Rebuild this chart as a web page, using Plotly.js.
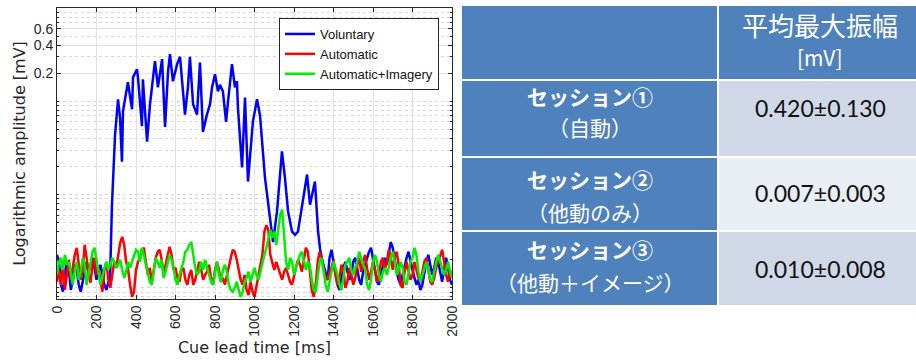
<!DOCTYPE html>
<html><head><meta charset="utf-8">
<script src="https://cdn.plot.ly/plotly-3.0.1.min.js"></script>
<style>html,body{margin:0;padding:0;background:#fff}#chart{width:916px;height:363px}</style>
</head><body><div id="chart"></div>
<script>
// ---------- DATA ----------
const seriesNames = ['Voluntary', 'Automatic', 'Automatic+Imagery'];
const timeMs = [0,10,20,30,40,50,60,70,80,90,100,110,120,130,140,150,160,170,180,190,200,210,220,230,240,250,260,270,280,290,300,310,320,330,340,350,360,370,380,390,400,410,420,430,440,450,460,470,480,490,500,510,520,530,540,550,560,570,580,590,600,610,620,630,640,650,660,670,680,690,700,710,720,730,740,750,760,770,780,790,800,810,820,830,840,850,860,870,880,890,900,910,920,930,940,950,960,970,980,990,1000,1010,1020,1030,1040,1050,1060,1070,1080,1090,1100,1110,1120,1130,1140,1150,1160,1170,1180,1190,1200,1210,1220,1230,1240,1250,1260,1270,1280,1290,1300,1310,1320,1330,1340,1350,1360,1370,1380,1390,1400,1410,1420,1430,1440,1450,1460,1470,1480,1490,1500,1510,1520,1530,1540,1550,1560,1570,1580,1590,1600,1610,1620,1630,1640,1650,1660,1670,1680,1690,1700,1710,1720,1730,1740,1750,1760,1770,1780,1790,1800,1810,1820,1830,1840,1850,1860,1870,1880,1890,1900,1910,1920,1930,1940,1950,1960,1970,1980,1990,2000];
const automaticValues = [
0.00116,0.00156,0.00108,0.00177,0.00095,0.00138,0.0020,0.00122,0.00164,0.00226,
0.00269,0.0019,0.00122,0.00156,0.0029,0.0021,0.00138,0.00114,0.00177,0.0021,
0.00138,0.00164,0.00116,0.00091,0.00156,0.0019,0.00122,0.0010,0.00138,0.0019,
0.00164,0.00226,0.00305,0.00353,0.0029,0.0019,0.00156,0.00108,0.0008,0.00091,
0.00156,0.0019,0.0021,0.00256,0.00269,0.0019,0.00138,0.00164,0.00116,0.00156,
0.0021,0.00244,0.00256,0.0020,0.00138,0.00177,0.00226,0.00276,0.00226,0.00156,
0.00164,0.00128,0.00116,0.00156,0.00164,0.00122,0.00108,0.00138,0.00156,0.00108,
0.00122,0.00149,0.0019,0.00156,0.00122,0.00138,0.00149,0.00177,0.00128,0.00108,
0.00156,0.0019,0.00156,0.00116,0.00128,0.00108,0.00138,0.00177,0.0021,0.00256,
0.00244,0.0020,0.00156,0.00122,0.00108,0.00138,0.00095,0.00084,0.00116,0.00091,
0.0008,0.00108,0.00138,0.00177,0.00226,0.0040,0.0047,0.0042,0.00226,0.0019,
0.00156,0.0019,0.00164,0.00138,0.00122,0.00149,0.00164,0.00138,0.00116,0.00108,
0.00138,0.00164,0.0020,0.00177,0.00149,0.0021,0.00269,0.00244,0.00164,0.00095,
0.0008,0.00108,0.0019,0.00244,0.0020,0.00156,0.00128,0.00122,0.00149,0.00164,
0.0020,0.00138,0.00108,0.00128,0.00177,0.00156,0.0010,0.00116,0.00164,0.00138,
0.00108,0.00128,0.00177,0.0021,0.00149,0.0019,0.00226,0.00164,0.00122,0.00149,
0.0019,0.00156,0.00116,0.00138,0.0019,0.0021,0.00156,0.0019,0.00256,0.0021,
0.00156,0.0021,0.00244,0.00177,0.00108,0.0010,0.00149,0.0019,0.00156,0.00122,
0.00138,0.0019,0.00156,0.00128,0.00116,0.00156,0.0019,0.0021,0.00156,0.00116,
0.00108,0.00128,0.00164,0.0019,0.0021,0.00256,0.0019,0.00138,0.00116,0.00156,
0.00128];
const imageryValues = [
0.00138,0.0019,0.0021,0.00156,0.00226,0.00177,0.0019,0.00138,0.00108,0.00156,
0.0019,0.00122,0.00149,0.0021,0.00177,0.00108,0.00138,0.0019,0.00244,0.00269,
0.0021,0.00149,0.00108,0.00138,0.00164,0.0019,0.00156,0.00177,0.0021,0.0019,
0.00164,0.00177,0.0020,0.00156,0.00128,0.00149,0.0019,0.00164,0.0019,0.00226,
0.00256,0.00244,0.0019,0.00269,0.00226,0.00177,0.00138,0.00116,0.00108,0.00156,
0.0021,0.0019,0.00164,0.0020,0.00128,0.00149,0.0019,0.00226,0.0020,0.00164,
0.00122,0.00108,0.00138,0.00164,0.0019,0.00244,0.00256,0.0029,0.0031,0.00226,
0.00164,0.00138,0.00149,0.0019,0.00156,0.0020,0.00164,0.00138,0.00116,0.00108,
0.00149,0.0019,0.00138,0.00116,0.00156,0.00177,0.00149,0.00108,0.00095,0.00091,
0.0010,0.00116,0.00095,0.0008,0.00091,0.00116,0.00128,0.00149,0.00116,0.00138,
0.00164,0.00138,0.00122,0.00149,0.0019,0.00226,0.00269,0.0033,0.0042,0.00345,
0.0040,0.0029,0.0044,0.0061,0.0069,0.0040,0.0019,0.00156,0.0021,0.0019,
0.00138,0.00164,0.0019,0.00226,0.00244,0.0019,0.00156,0.0019,0.00177,0.00122,
0.00095,0.00091,0.00128,0.0019,0.0021,0.00156,0.00108,0.00091,0.00116,0.00156,
0.0019,0.00164,0.00138,0.00108,0.00095,0.00128,0.00177,0.0019,0.0021,0.00156,
0.00138,0.00164,0.0019,0.00244,0.0021,0.00177,0.00156,0.00108,0.00095,0.00122,
0.0019,0.00226,0.0019,0.00138,0.00116,0.00149,0.00164,0.00138,0.00164,0.0021,
0.00244,0.0019,0.00138,0.00156,0.0019,0.00164,0.00116,0.00108,0.00138,0.0019,
0.0021,0.00269,0.00226,0.00149,0.00116,0.00138,0.00164,0.0019,0.00156,0.00122,
0.00116,0.00156,0.0019,0.00226,0.0019,0.00164,0.00138,0.00156,0.0019,0.00149,
0.00128];
const voluntaryTimeMs = [0,10,20,30,40,50,60,70,80,90,100,110,120,130,140,150,160,170,180,190,200,210,220,230,240,250,260,268,
278,294,309,319,329,334,354,359,380,385,405,410,430,435,456,471,496,511,532,547,562,572,587,608,623,633,648,663,673,689,709,724,739,759,775,785,800,815,825,840,856,866,886,901,911,916,937,952,967,992,1013,1028,1038,1053,1078,1094,1114,1139,1154,1170,1190,1205,1220,1246,1266,1281,1306,1322,1332,1345,1360,
1370,1380,1390,1400,1410,1420,1430,1440,1450,1460,1470,1480,1490,1500,1510,1520,1530,1540,1550,1560,1570,1580,1590,1600,1610,1620,1630,1640,1650,1660,1670,1680,1690,1700,1710,1720,1730,1740,1750,1760,1770,1780,1790,1800,1810,1820,1830,1840,1850,1860,1870,1880,1890,1900,1910,1920,1930,1940,1950,1960,1970,1980,1990,2000];
const voluntaryValues = [0.00226,0.0019,0.00108,0.00091,0.00138,0.0019,0.00156,0.00095,0.00122,0.00177,0.00156,0.00108,0.00091,0.00116,0.00156,0.0019,0.00149,0.00177,0.0021,0.00164,0.00122,0.00149,0.00177,0.00138,0.00108,0.00095,0.00114,0.00113,
0.0075,0.044,0.105,0.067,0.0225,0.078,0.141,0.16,0.082,0.181,0.22,0.18,0.054,0.172,0.037,0.093,0.27,0.141,0.283,0.053,0.205,0.32,0.164,0.25,0.30,0.164,0.072,0.141,0.30,0.093,0.072,0.26,0.047,0.072,0.093,0.141,0.195,0.128,0.15,0.128,0.06,0.10,0.25,0.141,0.164,0.086,0.0195,0.11,0.0138,0.061,0.105,0.07,0.037,0.0152,0.0057,0.0031,0.0066,0.029,0.0152,0.0066,0.0040,0.0037,0.0040,0.0084,0.0164,0.0078,0.0138,0.0040,0.0026,0.0019,0.0015,
0.00122,0.0021,0.00256,0.0019,0.00138,0.00108,0.00095,0.00128,0.00164,0.0019,0.00156,0.00122,0.00138,0.0019,0.0021,0.00164,0.00122,0.00108,0.00149,0.00177,0.0021,0.00244,0.00269,0.0021,0.00156,0.00116,0.00108,0.00138,0.00177,0.0021,0.00177,0.00226,0.0031,0.00269,0.0019,0.00149,0.00122,0.00108,0.00138,0.00177,0.0021,0.00244,0.0019,0.00156,0.00128,0.00108,0.00122,0.00095,0.00108,0.00149,0.0019,0.00226,0.00177,0.00138,0.00164,0.0021,0.0019,0.00149,0.00116,0.00156,0.0021,0.00164,0.00122,0.00108];

const xTickValues = [0,200,400,600,800,1000,1200,1400,1600,1800,2000];
const yTickValues = [0.2,0.4,0.6];
const yTickLabels = ['0.2','0.4','0.6'];
const yMinorValues = [0.0008,0.0009,0.001,0.002,0.003,0.004,0.005,0.006,0.007,0.008,0.009,0.01,0.02,0.03,0.04,0.05,0.06,0.07,0.08,0.09,0.1,0.3,0.5,0.7,0.8,0.9,1];

const tableHeaderTitle = '平均最大振幅';
const tableHeaderUnit = '[mV]';
const sessionNames = ['セッション①','セッション②','セッション③'];
const sessionConditions = ['（自動）','（他動のみ）','（他動＋イメージ）'];
const meanMaxAmplitude = [0.420, 0.007, 0.010];
const sdMaxAmplitude = [0.130, 0.003, 0.008];

// ---------- LAYOUT HELPERS ----------
const W = 916, H = 363;
const px = x => x / W;
const py = y => 1 - y / H;
const sans = 'Liberation Sans, Arial, sans-serif';
const tickFont = {family: sans, size: 14, color: '#262626'};
const jp = 'Noto Sans CJK JP, sans-serif';

const traces = [
  {x: voluntaryTimeMs, y: voluntaryValues, name: seriesNames[0], type: 'scatter', mode: 'lines', line: {color: '#0000ff', width: 2.5}},
  {x: timeMs, y: automaticValues, name: seriesNames[1], type: 'scatter', mode: 'lines', line: {color: '#ff0000', width: 2.5}},
  {x: timeMs, y: imageryValues, name: seriesNames[2], type: 'scatter', mode: 'lines', line: {color: '#00ee00', width: 2.5}}
];

// table geometry (pixels)
const col0 = [462, 717], col1 = [719, 916];
const headerRow = [6, 79];
const rowTop = [81, 158, 232], rowBottom = [156, 230, 305];
const line1Y = [96, 179, 249], line2Y = [127, 212, 282], valueY = [108, 193, 269];
const cellBlue = '#4f81bd';
const valueFills = ['#d0d8e8', '#e9edf4', '#d0d8e8'];

const shapes = [];
const rect = (x0, x1, y0, y1, fill) => ({type: 'rect', xref: 'paper', yref: 'paper', x0: px(x0), x1: px(x1), y0: py(y1), y1: py(y0), fillcolor: fill, line: {width: 0}});
shapes.push(rect(col0[0], col0[1], headerRow[0], headerRow[1], cellBlue));
shapes.push(rect(col1[0], col1[1], headerRow[0], headerRow[1], cellBlue));
for (let i = 0; i < sessionNames.length; i++) {
  shapes.push(rect(col0[0], col0[1], rowTop[i], rowBottom[i], cellBlue));
  shapes.push(rect(col1[0], col1[1], rowTop[i], rowBottom[i], valueFills[i]));
}

const annotations = [];
const ann = (x, y, text, font) => ({xref: 'paper', yref: 'paper', x: px(x), y: py(y), xanchor: 'center', yanchor: 'middle', showarrow: false,
  text: text, font: font});
annotations.push(ann(820, 24, tableHeaderTitle, {family: jp, size: 26, color: '#ffffff'}));
annotations.push(ann(820, 57, tableHeaderUnit, {family: jp, size: 21, color: '#ffffff'}));
for (let i = 0; i < sessionNames.length; i++) {
  annotations.push(ann(590, line1Y[i], '<b>' + sessionNames[i] + '</b>', {family: jp, size: 21, color: '#ffffff'}));
  annotations.push(ann(590, line2Y[i], sessionConditions[i], {family: jp, size: 21, color: '#ffffff'}));
  annotations.push(ann(820, valueY[i], meanMaxAmplitude[i].toFixed(3) + '±' + sdMaxAmplitude[i].toFixed(3), {family: 'Lato, Open Sans, sans-serif', size: 23, color: '#111111'}));
}

const layout = {
  width: W, height: H,
  margin: {l: 0, r: 0, t: 0, b: 0},
  paper_bgcolor: '#ffffff', plot_bgcolor: '#ffffff',
  showlegend: true,
  legend: {x: px(279), y: py(18), xanchor: 'left', yanchor: 'top', bgcolor: '#ffffff', bordercolor: '#262626', borderwidth: 1,
    font: {family: sans, size: 13, color: '#111111'}},
  xaxis: {
    domain: [px(57), px(452)], range: [0, 2000], tickmode: 'array', tickvals: xTickValues, tickangle: -90,
    tickfont: tickFont, ticks: 'inside', ticklen: 4, tickcolor: '#262626', showline: true, mirror: 'ticks', linecolor: '#262626', linewidth: 1,
    showgrid: true, gridcolor: '#e2e2e2', zeroline: false,
    title: {text: 'Cue lead time [ms]', font: {family: 'DejaVu Sans, sans-serif', size: 16, color: '#262626'}, standoff: 6}
  },
  yaxis: {
    domain: [py(299), py(8)], type: 'log', range: [Math.log10(0.00076), 0], tickmode: 'array', tickvals: yTickValues, ticktext: yTickLabels,
    tickfont: tickFont, ticks: 'inside', ticklen: 4, tickcolor: '#262626', showline: true, mirror: 'ticks', linecolor: '#262626', linewidth: 1,
    showgrid: true, gridcolor: '#e2e2e2', zeroline: false,
    minor: {tickvals: yMinorValues, ticks: 'inside', ticklen: 2, tickcolor: '#262626', showgrid: true, gridcolor: '#d6d6d6', griddash: 'dot', gridwidth: 1},
    title: {text: 'Logarithmic amplitude [mV]', font: {family: 'DejaVu Sans, sans-serif', size: 16, color: '#262626'}, standoff: 4}
  },
  shapes: shapes,
  annotations: annotations
};

Plotly.newPlot('chart', traces, layout, {staticPlot: true, displayModeBar: false});
</script>
</body></html>
